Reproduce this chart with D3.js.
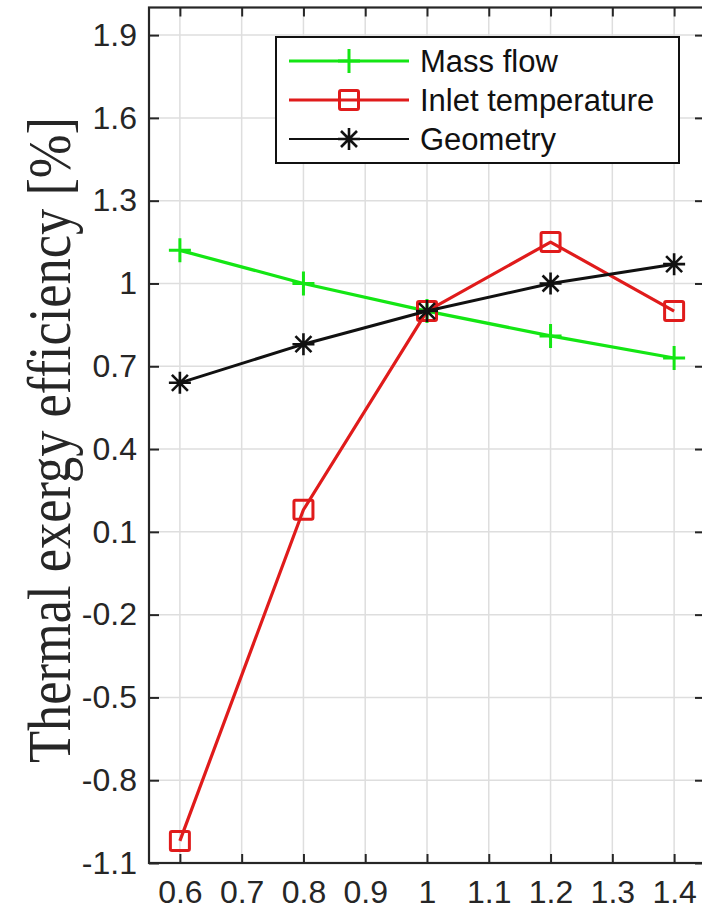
<!DOCTYPE html>
<html>
<head>
<meta charset="utf-8">
<script src="https://cdn.jsdelivr.net/npm/d3@7"></script>
<style>
  html, body { margin: 0; padding: 0; background: #fff; overflow: hidden; }
  #chart { width: 702px; height: 913px; overflow: hidden; }
</style>
</head>
<body>
<div id="chart"></div>
<script>
// data
const xValues = [0.6, 0.8, 1.0, 1.2, 1.4];
const massFlow = [1.12, 1.0, 0.9, 0.81, 0.73];
const inletTemperature = [-1.02, 0.18, 0.9, 1.15, 0.9];
const geometry = [0.64, 0.78, 0.9, 1.0, 1.07];

const xTicks = [0.6, 0.7, 0.8, 0.9, 1.0, 1.1, 1.2, 1.3, 1.4];
const xTickLabels = ["0.6", "0.7", "0.8", "0.9", "1", "1.1", "1.2", "1.3", "1.4"];
const yTicks = [-1.1, -0.8, -0.5, -0.2, 0.1, 0.4, 0.7, 1.0, 1.3, 1.6, 1.9];
const yTickLabels = ["-1.1", "-0.8", "-0.5", "-0.2", "0.1", "0.4", "0.7", "1", "1.3", "1.6", "1.9"];

const seriesNames = ["Mass flow", "Inlet temperature", "Geometry"];
const yLabel = "Thermal exergy efficiency [%]";

// GLOBALS
const W = 702, H = 913;
const margin = { top: 7.5, right: -3, bottom: 50, left: 149 };
const green = "#14e614";
const red = "#e01b1b";
const black = "#111";
const axisColour = "#262626";
const gridColour = "#dedede";

const svg = d3.select("#chart")
  .append("svg")
  .attr("width", W)
  .attr("height", H)
  .style("overflow", "hidden");

const x = d3.scaleLinear()
  .domain([0.55, 1.45])
  .range([margin.left, W - margin.right]);

const y = d3.scaleLinear()
  .domain([-1.1, 2.0])
  .range([H - margin.bottom, margin.top]);

// grid
svg.append("g")
  .selectAll("line")
  .data(xTicks)
  .join("line")
  .attr("x1", d => x(d)).attr("x2", d => x(d))
  .attr("y1", y.range()[0]).attr("y2", y.range()[1])
  .attr("stroke", gridColour).attr("stroke-width", 1.5);

svg.append("g")
  .selectAll("line")
  .data(yTicks)
  .join("line")
  .attr("x1", x.range()[0]).attr("x2", x.range()[1])
  .attr("y1", d => y(d)).attr("y2", d => y(d))
  .attr("stroke", gridColour).attr("stroke-width", 1.5);

// axes, ticks pointing inward like matlab
function styleAxis(g) {
  g.select(".domain").remove();
  g.selectAll(".tick line").attr("stroke", axisColour).attr("stroke-width", 2);
  g.selectAll(".tick text")
    .attr("fill", "#262626")
    .style("font-family", "'Liberation Sans', Arial, sans-serif")
    .style("font-size", "32px");
}

svg.append("g")
  .attr("transform", "translate(0," + y.range()[0] + ")")
  .call(d3.axisBottom(x).tickValues(xTicks).tickSizeInner(-9).tickSizeOuter(0)
    .tickPadding(17).tickFormat((d, i) => xTickLabels[i]))
  .call(styleAxis)
  .selectAll(".tick text").attr("dy", "0.71em");

svg.append("g")
  .attr("transform", "translate(0," + y.range()[1] + ")")
  .call(d3.axisTop(x).tickValues(xTicks).tickSizeInner(-9).tickSizeOuter(0).tickFormat(""))
  .call(styleAxis);

svg.append("g")
  .attr("transform", "translate(" + x.range()[0] + ",0)")
  .call(d3.axisLeft(y).tickValues(yTicks).tickSizeInner(-10).tickSizeOuter(0)
    .tickPadding(12).tickFormat((d, i) => yTickLabels[i]))
  .call(styleAxis);

svg.append("g")
  .attr("transform", "translate(" + x.range()[1] + ",0)")
  .call(d3.axisRight(y).tickValues(yTicks).tickSizeInner(-10).tickSizeOuter(0).tickFormat(""))
  .call(styleAxis);

// box
svg.append("rect")
  .attr("x", x.range()[0])
  .attr("y", y.range()[1])
  .attr("width", x.range()[1] - x.range()[0])
  .attr("height", y.range()[0] - y.range()[1])
  .attr("fill", "none")
  .attr("stroke", axisColour)
  .attr("stroke-width", 2.2);

// markers
const plusPath = "M-11,0H11M0,-12V12";
const starPath = "M-11,0H11M0,-11V11M-8,-8L8,8M-8,8L8,-8";

function drawMarker(g, type, colour) {
  if (type == "plus") {
    g.append("path").attr("d", plusPath).attr("stroke", colour).attr("stroke-width", 3).attr("fill", "none");
  } else if (type == "square") {
    g.append("rect").attr("x", -9.5).attr("y", -9.5).attr("width", 19).attr("height", 19)
      .attr("rx", 1.5)
      .attr("stroke", colour).attr("stroke-width", 3).attr("fill", "none");
  } else {
    g.append("path").attr("d", starPath).attr("stroke", colour).attr("stroke-width", 2.6).attr("fill", "none");
  }
}

const series = [
  { name: seriesNames[0], values: massFlow, colour: green, width: 3.2, marker: "plus" },
  { name: seriesNames[1], values: inletTemperature, colour: red, width: 3.2, marker: "square" },
  { name: seriesNames[2], values: geometry, colour: black, width: 3, marker: "star" }
];

const line = d3.line()
  .x((d, i) => x(xValues[i]))
  .y(d => y(d));

series.forEach(function (s) {
  svg.append("path")
    .datum(s.values)
    .attr("d", line)
    .attr("fill", "none")
    .attr("stroke", s.colour)
    .attr("stroke-width", s.width)
    .attr("stroke-linejoin", "round");

  svg.append("g")
    .selectAll("g")
    .data(s.values)
    .join("g")
    .attr("transform", (d, i) => "translate(" + x(xValues[i]) + "," + y(d) + ")")
    .each(function () {
      drawMarker(d3.select(this), s.marker, s.colour);
    });
});

// y label, the original font is a slightly condensed serif
svg.append("text")
  .attr("transform", "translate(70,440) rotate(-90) scale(0.86,1)")
  .attr("text-anchor", "middle")
  .style("font-family", "'Liberation Serif', 'Times New Roman', serif")
  .style("font-size", "61px")
  .attr("fill", "#262626")
  .text(yLabel);

// legend
const legend = svg.append("g").attr("transform", "translate(276,37)");
legend.append("rect")
  .attr("width", 403).attr("height", 126)
  .attr("fill", "#fff").attr("stroke", black).attr("stroke-width", 2);

const rowY = [24, 63, 102];
series.forEach(function (s, i) {
  const row = legend.append("g").attr("transform", "translate(0," + rowY[i] + ")");
  row.append("line")
    .attr("x1", 13).attr("x2", 133)
    .attr("stroke", s.colour)
    .attr("stroke-width", i == 2 ? 2 : 3.2);
  const m = row.append("g").attr("transform", "translate(73,0)");
  drawMarker(m, s.marker, s.colour);
  row.append("text")
    .attr("x", 144)
    .attr("dy", "0.36em")
    .style("font-family", "'Liberation Sans', Arial, sans-serif")
    .style("font-size", "31px")
    .attr("fill", "#111")
    .text(s.name);
});
</script>
</body>
</html>
